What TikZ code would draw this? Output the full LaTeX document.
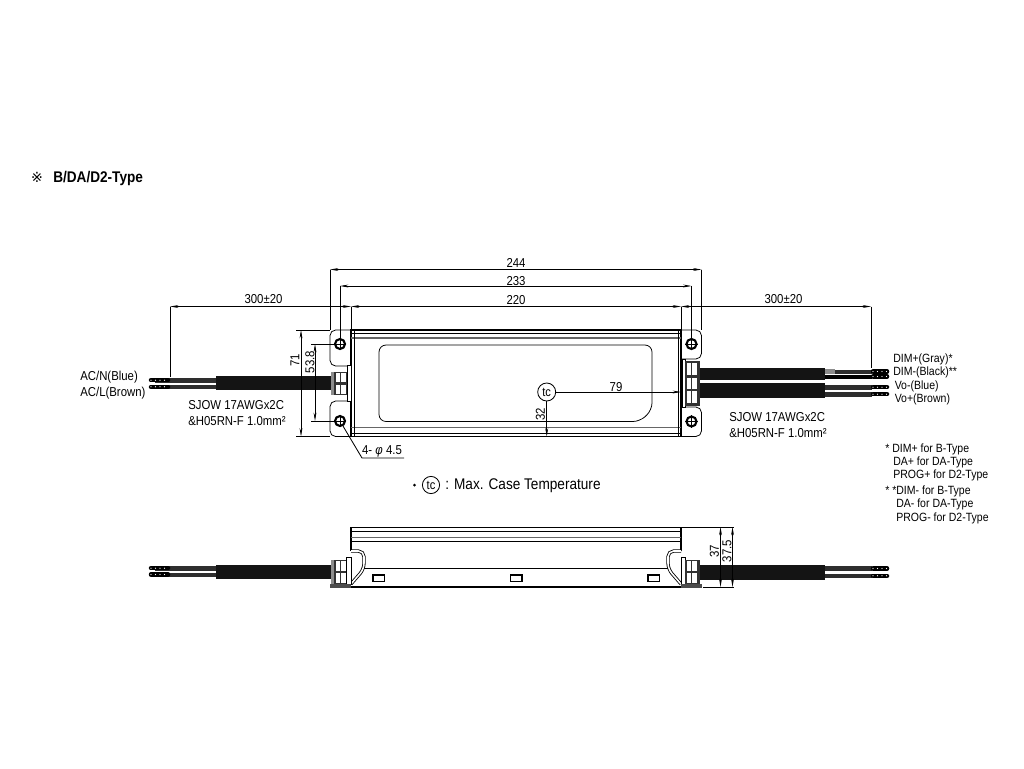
\documentclass[tikz,border=0pt]{standalone}
\usepackage{fontspec}
\setmainfont[FakeStretch=0.88]{Liberation Sans}
\newfontfamily\symfont{DejaVu Sans}
\usetikzlibrary{arrows.meta}

\begin{document}
\begin{tikzpicture}[
	x=0.25mm, y=-0.25mm,
	outline/.style={draw=black, line width=0.55pt},
	heavy/.style={draw=black, line width=1.1pt},
	dimline/.style={{Stealth[length=6pt,width=2pt]}-{Stealth[length=6pt,width=2pt]}, black, line width=0.45pt},
	endline/.style={-{Stealth[length=6pt,width=2pt]}, black, line width=0.45pt},
	extline/.style={black, line width=0.45pt},
	hole/.style={circle, draw=black, line width=1.5pt, fill=white, inner sep=0pt, minimum size=2.5mm},
	tcmark/.style={circle, draw=black, line width=0.6pt, fill=white, inner sep=0pt, minimum size=4.5mm, font=\fontsize{9}{10}\selectfont},
	dimtext/.style={font=\fontsize{9.2}{10}\selectfont, inner sep=0pt},
	labeltext/.style={font=\fontsize{9.2}{10}\selectfont, inner sep=0pt, anchor=west},
	notetext/.style={font=\fontsize{8.5}{10}\selectfont, inner sep=0pt, anchor=west},
	cable/.style={fill=black!92},
	wire/.style={fill=black!82},
	hook/.style={black, line width=0.6pt, double=white, double distance=1.1pt, rounded corners=4},
	tip/.style={draw=white, line width=0.9pt, line cap=round, dash pattern=on 0pt off 3.2pt},
	]
	\useasboundingbox (0,0) rectangle (1024,768);
	\fill[white] (0,0) rectangle (1024,768);

	% ===== TITLE =====
	\node[inner sep=0pt] (mark) at (37,177) {\symfont\fontsize{10}{10}\selectfont ※};
	\node[inner sep=0pt, anchor=west, font=\fontsize{11}{12}\selectfont\bfseries] (title) at (53,178) {B/DA/D2-Type};

	% ===== TOP VIEW: CABLES =====
	\fill[cable] (216,376) rectangle (333,389.5);
	\fill[cable] (700,368) rectangle (825,379.5);
	\fill[cable] (700,383) rectangle (825,398);
	\fill[black!45] (825,369) rectangle (835,374);
	\fill[wire] (835,369.5) rectangle (872,373.5);
	\fill[black] (825,374.5) rectangle (872,378.5);
	\fill[wire] (825,385) rectangle (872,389.5);
	\fill[wire] (825,392) rectangle (872,396.5);
	\fill[wire] (155,378) rectangle (216,382.5);
	\fill[wire] (155,384.5) rectangle (216,389);

	% ===== TOP VIEW: BODY =====
	\draw[heavy] (351,330) rectangle (681,436.5);
	\draw[outline] (351,333.5) -- (681,333.5);
	\draw[draw=black!60, line width=0.8pt] (351,338) -- (681,338);
	\draw[draw=black!60, line width=0.8pt] (351,427.5) -- (681,427.5);
	\draw[outline] (351,433.5) -- (681,433.5);
	\draw[outline] (354,330) -- (354,436.5);
	\draw[outline] (678,330) -- (678,436.5);
	\draw[outline, rounded corners=5] (652,410) -- (652,345) -- (379,345) -- (379,421.5) -- (640,421.5) -- cycle;

	% ===== TOP VIEW: EARS =====
	\draw[outline, rounded corners=4] (351,330) -- (330,330) -- (330,366) -- (351,366);
	\draw[outline, rounded corners=4] (351,401) -- (330,401) -- (330,436.5) -- (351,436.5);
	\draw[outline, rounded corners=4] (681,330) -- (701.5,330) -- (701.5,359) -- (681,359);
	\draw[outline, rounded corners=4] (681,407) -- (701.5,407) -- (701.5,436.5) -- (681,436.5);
	\foreach \name/\px/\py in {HA/340/344, HB/340/421, HC/691.5/344, HD/691.5/421.5}{
		\node[hole] (\name) at (\px,\py) {};
		\draw[line width=0.7pt] (\name.north) -- (\name.south) (\name.west) -- (\name.east);
	}

	% ===== GLANDS =====
	\draw[outline, fill=white] (347,365) rectangle (351,401);
	\fill[black!80] (331,372) rectangle (347,395);
	\fill[black!45] (331,372) rectangle (334,395);
	\foreach \gx in {335.5,341}
		\foreach \gy/\gh in {373/382, 385/394}
			\fill[white] (\gx,\gy) rectangle ++(4.6,\gh-\gy);
	\draw[outline, fill=white] (682,359) rectangle (685,407);
	\fill[black!80] (685,361) rectangle (700,406);
	\foreach \gx in {686.5,692}
		\foreach \gy/\gh in {363/375, 377.5/388.5, 391/403}
			\fill[white] (\gx,\gy) rectangle ++(4.6,\gh-\gy);

	% ===== SIDE VIEW: CABLES =====
	\fill[cable] (216,565) rectangle (333,578.5);
	\fill[cable] (700,564.5) rectangle (825,580);
	\fill[wire] (155,566) rectangle (216,570.5);
	\fill[wire] (155,572.5) rectangle (216,576.5);
	\fill[wire] (825,566) rectangle (872,571);
	\fill[wire] (825,573.5) rectangle (872,578);

	% ===== SIDE VIEW: BODY =====
	\draw[heavy] (351,551) -- (351,527.5) -- (681,527.5) -- (681,551);
	\draw[outline] (351,531.5) -- (681,531.5);
	\draw[draw=black!60, line width=0.8pt] (351,537.5) -- (681,537.5);
	\draw[outline] (351,541.5) -- (681,541.5);
	\draw[hook] (351,551) -- (364,551) -- (364,569) -- (351,584);
	\draw[hook] (681,551) -- (668,551) -- (668,569) -- (681,584);
	\draw[outline] (364,568) -- (668,568);
	\draw[heavy] (330,587) -- (702,587);
	\foreach \sx in {373,510.5,648}
		\draw[line width=0.9pt] (\sx,575) rectangle ++(11.5,6.5);

	% ===== SIDE VIEW: GLANDS =====
	\draw[outline, fill=white] (346,557) rectangle (351,584);
	\fill[black!80] (331,560) rectangle (346,584);
	\fill[black!45] (331,560) rectangle (334,584);
	\foreach \gx in {335.5,341}
		\foreach \gy/\gh in {561/570.5, 573/582.5}
			\fill[white] (\gx,\gy) rectangle ++(4.6,\gh-\gy);
	\draw[outline, fill=white] (681,557) rectangle (685,584);
	\fill[black!80] (685,560) rectangle (700,585);
	\foreach \gx in {686.5,692}
		\foreach \gy/\gh in {561/570.5, 573/582.5}
			\fill[white] (\gx,\gy) rectangle ++(4.6,\gh-\gy);
	\fill[black!70] (330,584) rectangle (351,587.5);
	\fill[black!70] (681,584) rectangle (702,587.5);

	% ===== WIRE TIPS =====
	\foreach \wa/\wb/\wy in {151/168/380.2, 151/168/386.8, 873/887/371.5, 873/887/376.5, 873/887/387.2, 873/887/394.2, 151/168/568.2, 151/168/574.5, 873/887/568.5, 873/887/575.8}{
		\draw[black, line width=3.2pt, line cap=round] (\wa,\wy) -- (\wb,\wy);
		\draw[tip] (\wa,\wy) -- (\wb,\wy);
	}

	% ===== DIMENSIONS ABOVE =====
	\coordinate (e244L) at (330,269.5);
	\coordinate (e244R) at (701.5,269.5);
	\coordinate (e233L) at (340,286);
	\coordinate (e233R) at (691.5,286);
	\coordinate (e220L) at (351,306.5);
	\coordinate (e220R) at (681,306.5);
	\coordinate (eLeft) at (170,306.5);
	\coordinate (eRight) at (871,306.5);
	\draw[dimline] (e244L) -- (e244R);
	\draw[dimline] (e233L) -- (e233R);
	\draw[dimline] (e220L) -- (e220R);
	\draw[dimline] (eLeft) -- (e220L);
	\draw[dimline] (e220R) -- (eRight);
	\draw[extline] (e244L) -- (330,330);
	\draw[extline] (e244R) -- (701.5,330);
	\draw[extline] (e233L) -- (HA);
	\draw[extline] (e233R) -- (HC);
	\draw[extline] (e220L) -- (351,330);
	\draw[extline] (e220R) -- (681,330);
	\draw[extline] (eLeft) -- (170,377);
	\draw[extline] (eRight) -- (871,368);
	\node[dimtext] (d244) at (516,263) {244};
	\node[dimtext] (d233) at (516,281) {233};
	\node[dimtext] (d220) at (516,300.5) {220};
	\node[dimtext] (dLeft) at (263.5,299.5) {300±20};
	\node[dimtext] (dRight) at (783.5,299.5) {300±20};

	% ===== DIMENSIONS LEFT =====
	\coordinate (e71T) at (301,330);
	\coordinate (e71B) at (301,436.5);
	\coordinate (e53T) at (315,344);
	\coordinate (e53B) at (315,421);
	\draw[dimline] (e71T) -- (e71B);
	\draw[dimline] (e53T) -- (e53B);
	\draw[extline] (296,330) -- (330,330);
	\draw[extline] (296,436.5) -- (330,436.5);
	\draw[extline] (311,344) -- (HA);
	\draw[extline] (311,421) -- (HB);
	\node[dimtext, rotate=90] (d71) at (295,360) {71};
	\node[dimtext, rotate=90] (d53) at (310,362) {53.8};

	% ===== HOLE LEADER =====
	\node[font=\fontsize{9.2}{10}\selectfont, inner sep=0pt] (dHole) at (382,451.5) {4- \textit{φ} 4.5};
	\coordinate (bend) at (362,458);
	\draw[extline, line width=0.6pt] (HB) -- (bend) -- (404,458);

	% ===== TC POINT =====
	\node[tcmark] (tc) at (546.7,392) {tc};
	\coordinate (t79) at (681,392);
	\coordinate (t32) at (546.7,436.5);
	\draw[endline] (tc) -- (t79);
	\draw[endline] (tc) -- (t32);
	\node[dimtext] (d79) at (616,387) {79};
	\node[dimtext, rotate=90] (d32) at (540.5,414) {32};

	% ===== CASE TEMPERATURE NOTE =====
	\fill (414.5,485) circle (1.5);
	\node[tcmark, minimum size=4.3mm] (tcKey) at (431,485) {tc};
	\node[inner sep=0pt, anchor=west, font=\fontsize{11}{12}\selectfont] (tcText) at (445,486) {: Max. Case Temperature};

	% ===== CABLE LABELS =====
	\node[labeltext] (acN) at (80,377) {AC/N(Blue)};
	\node[labeltext] (acL) at (80,393) {AC/L(Brown)};
	\node[labeltext] (cblA) at (188,405) {SJOW 17AWGx2C};
	\node[labeltext] (cblB) at (188,421.5) {\&H05RN-F 1.0mm²};
	\node[labeltext] (cblC) at (729,417) {SJOW 17AWGx2C};
	\node[labeltext] (cblD) at (729,433.5) {\&H05RN-F 1.0mm²};
	\node[notetext] (dimP) at (893,359) {DIM+(Gray)*};
	\node[notetext] (dimM) at (893,372) {DIM-(Black)**};
	\node[notetext] (voM) at (894.5,386.5) {Vo-(Blue)};
	\node[notetext] (voP) at (894.5,399) {Vo+(Brown)};

	% ===== NOTES =====
	\node[notetext] (noteA) at (885,449) {* DIM+ for B-Type};
	\node[notetext] (noteB) at (893,462) {DA+ for DA-Type};
	\node[notetext] (noteC) at (893,475.5) {PROG+ for D2-Type};
	\node[notetext] (noteD) at (885,491) {* *DIM- for B-Type};
	\node[notetext] (noteE) at (896,504.5) {DA- for DA-Type};
	\node[notetext] (noteF) at (896,518.5) {PROG- for D2-Type};

	% ===== SIDE VIEW DIMENSIONS =====
	\coordinate (e37T) at (720.5,527);
	\coordinate (e37B) at (720.5,587);
	\coordinate (e375T) at (732.5,527);
	\coordinate (e375B) at (732.5,587);
	\draw[dimline] (e37T) -- (e37B);
	\draw[dimline] (e375T) -- (e375B);
	\draw[extline] (681,527) -- (734,527);
	\draw[extline] (703,587) -- (734,587);
	\node[dimtext, rotate=90] (d37) at (714.5,551) {37};
	\node[dimtext, rotate=90] (d375) at (727,551) {37.5};
\end{tikzpicture}
\end{document}
